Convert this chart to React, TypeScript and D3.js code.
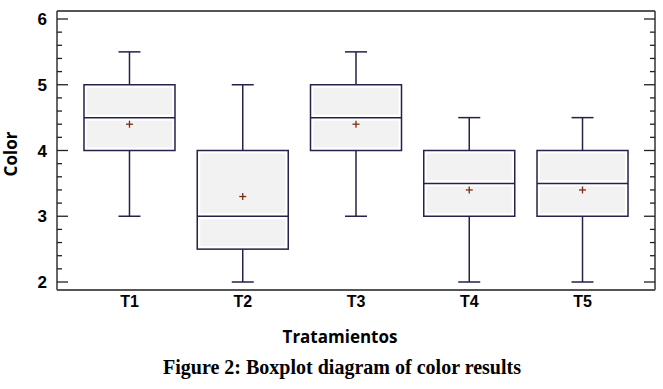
import { useEffect, useRef } from 'react';
import * as d3 from 'd3';

const categories = ['T1', 'T2', 'T3', 'T4', 'T5'];
const mins = [3, 2, 3, 2, 2];
const q1s = [4, 2.5, 4, 3, 3];
const medians = [4.5, 3, 4.5, 3.5, 3.5];
const q3s = [5, 4, 5, 4, 4];
const maxs = [5.5, 5, 5.5, 4.5, 4.5];
const means = [4.4, 3.3, 4.4, 3.4, 3.4];
const yTicks = [2, 3, 4, 5, 6];

const W = 663;
const H = 389;

export default function App() {
	const svgRef = useRef<SVGSVGElement>(null);

	useEffect(() => {
		if (!svgRef.current) return;
		const svg = d3.select(svgRef.current);
		svg.selectAll('*').remove();

		const left = 57;
		const right = 655;
		const top = 11;
		const bottom = 290;

		const y = d3.scaleLinear().domain([2, 6]).range([282, 19]);
		const x = d3.scalePoint<string>().domain(categories).range([left, right]).padding(0.64);

		const boxW = 91;
		const capW = 22;
		const stroke = '#22224a';
		const font = 'Liberation Sans, Arial, sans-serif';

		// frame
		svg.append('line').attr('x1', left).attr('x2', right).attr('y1', top).attr('y2', top)
			.attr('stroke', '#555').attr('stroke-width', 2);
		svg.append('line').attr('x1', left).attr('x2', left).attr('y1', top).attr('y2', bottom)
			.attr('stroke', '#333').attr('stroke-width', 1.5);
		svg.append('line').attr('x1', right).attr('x2', right).attr('y1', top).attr('y2', bottom)
			.attr('stroke', '#333').attr('stroke-width', 1.5);
		svg.append('line').attr('x1', left).attr('x2', right).attr('y1', bottom).attr('y2', bottom)
			.attr('stroke', '#555').attr('stroke-width', 2);

		// ticks inside, both sides
		const minor = d3.range(2, 6.001, 0.2);
		minor.forEach((v) => {
			const isMajor = Math.abs(v - Math.round(v)) < 1e-6;
			const len = isMajor ? 11 : 5;
			svg.append('line').attr('x1', left).attr('x2', left + len)
				.attr('y1', y(v)).attr('y2', y(v)).attr('stroke', '#222').attr('stroke-width', 1.3);
			svg.append('line').attr('x1', right).attr('x2', right - len)
				.attr('y1', y(v)).attr('y2', y(v)).attr('stroke', '#222').attr('stroke-width', 1.3);
		});

		svg.append('g').selectAll('text').data(yTicks).enter().append('text')
			.attr('x', 47).attr('y', (d) => y(d) + 6)
			.attr('text-anchor', 'end')
			.attr('font-family', font).attr('font-weight', 'bold').attr('font-size', 17)
			.text((d) => d);

		categories.forEach((c, i) => {
			const cx = x(c)!;
			const g = svg.append('g');
			// whiskers
			g.append('line').attr('x1', cx).attr('x2', cx).attr('y1', y(maxs[i])).attr('y2', y(q3s[i]))
				.attr('stroke', stroke).attr('stroke-width', 1.5);
			g.append('line').attr('x1', cx).attr('x2', cx).attr('y1', y(q1s[i])).attr('y2', y(mins[i]))
				.attr('stroke', stroke).attr('stroke-width', 1.5);
			g.append('line').attr('x1', cx - capW / 2).attr('x2', cx + capW / 2)
				.attr('y1', y(maxs[i])).attr('y2', y(maxs[i])).attr('stroke', stroke).attr('stroke-width', 1.5);
			g.append('line').attr('x1', cx - capW / 2).attr('x2', cx + capW / 2)
				.attr('y1', y(mins[i])).attr('y2', y(mins[i])).attr('stroke', stroke).attr('stroke-width', 1.5);
			// box
			g.append('rect').attr('x', cx - boxW / 2).attr('y', y(q3s[i]))
				.attr('width', boxW).attr('height', y(q1s[i]) - y(q3s[i]))
				.attr('fill', '#ffffff').attr('stroke', stroke).attr('stroke-width', 1.5);
			g.append('rect').attr('x', cx - boxW / 2 + 3).attr('y', y(q3s[i]) + 3)
				.attr('width', boxW - 6).attr('height', y(medians[i]) - y(q3s[i]) - 6)
				.attr('fill', '#f2f2f2');
			g.append('rect').attr('x', cx - boxW / 2 + 3).attr('y', y(medians[i]) + 3)
				.attr('width', boxW - 6).attr('height', y(q1s[i]) - y(medians[i]) - 6)
				.attr('fill', '#f2f2f2');
			g.append('line').attr('x1', cx - boxW / 2).attr('x2', cx + boxW / 2)
				.attr('y1', y(medians[i])).attr('y2', y(medians[i])).attr('stroke', stroke).attr('stroke-width', 1.5);
			// mean marker
			const my = y(means[i]);
			g.append('line').attr('x1', cx - 3.5).attr('x2', cx + 3.5).attr('y1', my).attr('y2', my)
				.attr('stroke', '#7a3010').attr('stroke-width', 1.3);
			g.append('line').attr('x1', cx).attr('x2', cx).attr('y1', my - 3.5).attr('y2', my + 3.5)
				.attr('stroke', '#7a3010').attr('stroke-width', 1.3);
			// label
			svg.append('text').attr('x', cx).attr('y', 307).attr('text-anchor', 'middle')
				.attr('font-family', font).attr('font-weight', 'bold').attr('font-size', 16)
				.text(c);
		});

		svg.append('text').attr('x', 340).attr('y', 343).attr('text-anchor', 'middle')
			.attr('font-family', 'Open Sans, sans-serif').attr('font-weight', 'bold').attr('font-size', 17)
			.text('Tratamientos');

		svg.append('text').attr('transform', `translate(17,154) rotate(-90)`)
			.attr('text-anchor', 'middle')
			.attr('font-family', 'Open Sans, sans-serif').attr('font-weight', 'bold').attr('font-size', 17)
			.text('Color');

		svg.append('text').attr('x', 163).attr('y', 374)
			.attr('font-family', 'Liberation Serif, Times New Roman, serif').attr('font-weight', 'bold').attr('font-size', 22)
			.attr('textLength', 358).attr('lengthAdjust', 'spacingAndGlyphs')
			.text('Figure 2: Boxplot diagram of color results');
	}, []);

	return (
		<svg ref={svgRef} width={W} height={H} style={{ position: 'absolute', left: 0, top: 0, background: '#fff' }} />
	);
}
